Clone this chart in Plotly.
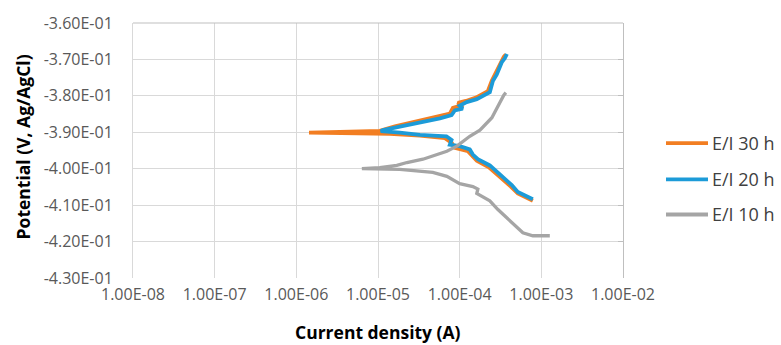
import plotly.graph_objects as go

# Polarization curves: current density (A) vs potential (V, Ag/AgCl),
# each traced from the cathodic end through Ecorr to the anodic end.
series_names = ["E/I 30 h", "E/I 20 h", "E/I 10 h"]
series_colors = ["#F27E22", "#1C9BD8", "#A5A5A5"]

current_30h = [7.87e-4, 5.15e-4, 4.23e-4, 3.47e-4, 2.85e-4, 2.28e-4, 1.62e-4, 1.41e-4,
               1.26e-4, 8.73e-5, 8.0e-5, 6.6e-5, 3.26e-5, 1.40e-5, 3.42e-6, 1.43e-6,
               3.42e-6, 1.05e-5, 1.61e-5, 2.60e-5, 3.26e-5, 5.41e-5, 7.58e-5, 8.26e-5,
               1.03e-4, 9.5e-5, 1.19e-4, 1.58e-4, 2.21e-4, 2.48e-4, 2.70e-4, 2.94e-4,
               3.19e-4, 3.47e-4, 3.68e-4]
potential_30h = [-0.4088, -0.4068, -0.4049, -0.4033, -0.4015, -0.3996, -0.3978, -0.3964,
                 -0.3952, -0.3943, -0.3929, -0.3916, -0.3909, -0.3904, -0.3902, -0.3901,
                 -0.3899, -0.3896, -0.3884, -0.3874, -0.3868, -0.3858, -0.3849, -0.3833,
                 -0.3827, -0.3819, -0.3814, -0.3805, -0.3787, -0.3758, -0.3741, -0.3723,
                 -0.3707, -0.3693, -0.3686]

current_20h = [7.87e-4, 5.15e-4, 4.35e-4, 3.57e-4, 2.94e-4, 2.34e-4, 1.67e-4, 1.45e-4,
               1.33e-4, 1.00e-4, 7.58e-5, 7.96e-5, 6.89e-5, 3.26e-5, 1.85e-5, 1.08e-5,
               1.15e-5, 1.85e-5, 2.99e-5, 3.55e-5, 5.73e-5, 7.96e-5, 8.73e-5, 1.09e-4,
               1.00e-4, 1.22e-4, 1.62e-4, 2.34e-4, 2.55e-4, 2.85e-4, 3.02e-4, 3.29e-4,
               3.57e-4, 3.79e-4]
potential_20h = [-0.4084, -0.4064, -0.4045, -0.4028, -0.4010, -0.3991, -0.3974, -0.3961,
                 -0.3947, -0.3938, -0.3934, -0.3921, -0.3911, -0.3907, -0.3901, -0.3897,
                 -0.3894, -0.3885, -0.3876, -0.3871, -0.3862, -0.3853, -0.3840, -0.3835,
                 -0.3827, -0.3817, -0.3809, -0.3790, -0.3759, -0.3741, -0.3725, -0.3707,
                 -0.3697, -0.3685]

current_10h = [1.27e-3, 7.87e-4, 5.94e-4, 4.12e-4, 2.94e-4, 2.34e-4, 1.62e-4, 1.67e-4,
               1.45e-4, 1.00e-4, 6.97e-5, 4.69e-5, 3.26e-5, 1.85e-5, 6.35e-6,
               1.05e-5, 1.70e-5, 2.26e-5, 3.55e-5, 4.69e-5, 6.97e-5, 9.24e-5, 1.09e-4,
               1.33e-4, 1.77e-4, 2.15e-4, 2.48e-4, 2.70e-4, 2.94e-4, 3.29e-4, 3.47e-4,
               3.68e-4]
potential_10h = [-0.4184, -0.4184, -0.4176, -0.4144, -0.4112, -0.4088, -0.4068, -0.4056,
                 -0.4049, -0.4041, -0.4021, -0.4010, -0.4006, -0.4002, -0.4000,
                 -0.3997, -0.3991, -0.3983, -0.3974, -0.3965, -0.3952, -0.3938, -0.3925,
                 -0.3911, -0.3894, -0.3876, -0.3860, -0.3844, -0.3827, -0.3809, -0.3798,
                 -0.3791]

x_ticks = [1e-8, 1e-7, 1e-6, 1e-5, 1e-4, 1e-3, 1e-2]
y_ticks = [-0.36, -0.37, -0.38, -0.39, -0.40, -0.41, -0.42, -0.43]

x_title = "Current density (A)"
y_title = "Potential (V, Ag/AgCl)"

FONT = "Open Sans"
GRID = "#D9D9D9"
AXIS = "#BFBFBF"

fig = go.Figure()
data = [(current_30h, potential_30h), (current_20h, potential_20h), (current_10h, potential_10h)]
widths = [3.8, 3.8, 3.3]
for (cur, pot), name, color, w in zip(data, series_names, series_colors, widths):
    fig.add_trace(go.Scatter(x=cur, y=pot, mode="lines", name=name,
                             line=dict(color=color, width=w), showlegend=False))

# invisible trace carrying the right-hand axis with inward tick marks
fig.add_trace(go.Scatter(x=[x_ticks[0]], y=[y_ticks[0]], yaxis="y2", mode="lines",
                         line=dict(width=0), showlegend=False, hoverinfo="skip"))

fig.update_layout(
    width=781, height=345,
    margin=dict(l=133, r=158, t=17, b=67),
    paper_bgcolor="white", plot_bgcolor="white",
    font=dict(family=FONT, color="#595959"),
    xaxis=dict(type="log", range=[-8, -2], tickvals=x_ticks,
               ticktext=[f"{v:.2E}" for v in x_ticks],
               showgrid=True, gridcolor=GRID, gridwidth=1,
               zeroline=False, showline=False, ticks="",
               tickfont=dict(family=FONT, size=16, color="#595959"),
               ticklabelstandoff=5),
    yaxis=dict(range=[-0.43, -0.36], tickvals=y_ticks,
               ticktext=[f"{v:.2E}" for v in y_ticks],
               showgrid=True, gridcolor=GRID, gridwidth=1,
               zeroline=False, showline=True, linecolor=GRID, linewidth=1,
               ticks="", tickfont=dict(family=FONT, size=16, color="#595959"),
               ticklabelstandoff=16),
    yaxis2=dict(range=[-0.43, -0.36], overlaying="y", side="right",
                tickvals=y_ticks, showticklabels=False, showgrid=False,
                zeroline=False, showline=True, linecolor=AXIS, linewidth=1,
                ticks="inside", ticklen=5, tickcolor=AXIS, tickwidth=1),
)

# horizontal axis line crossing at the top of the plot
fig.add_shape(type="line", xref="paper", yref="paper", x0=0, x1=1, y0=1, y1=1,
              line=dict(color=AXIS, width=1))

# axis titles
fig.add_annotation(text=f"<b>{x_title}</b>", xref="paper", yref="paper",
                   x=(378 - 133) / 490.0, y=-0.21, xanchor="center", yanchor="middle",
                   showarrow=False, font=dict(family=FONT, size=17.5, color="#000000"))
fig.add_annotation(text=f"<b>{y_title}</b>", xref="paper", yref="paper",
                   x=-0.225, y=0.515, xanchor="center", yanchor="middle", textangle=-90,
                   showarrow=False, font=dict(family=FONT, size=17.5, color="#000000"))

# legend drawn to the right of the plot area
plot_w, plot_h = 490.0, 261.0
legend_rows_px = [140, 177, 213]
for name, color, row in zip(series_names, series_colors, legend_rows_px):
    yp = (278 - row) / plot_h
    fig.add_shape(type="line", xref="paper", yref="paper",
                  x0=(666 - 133) / plot_w, x1=(708 - 133) / plot_w, y0=yp, y1=yp,
                  line=dict(color=color, width=3.8))
    fig.add_annotation(text=name, xref="paper", yref="paper",
                       x=(710 - 133) / plot_w, y=yp, xanchor="left", yanchor="middle",
                       showarrow=False, font=dict(family=FONT, size=18, color="#404040"))

fig.write_html("out.html")
